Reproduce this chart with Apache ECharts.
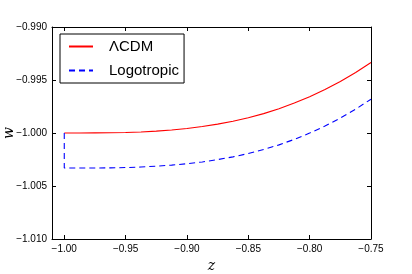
<!DOCTYPE html>
<html>
<head>
<meta charset="utf-8">
<script src="https://cdn.jsdelivr.net/npm/echarts@6/dist/echarts.min.js"></script>
<style>
html,body{margin:0;padding:0;background:#fff;}
#chart{width:412px;height:274px;}
</style>
</head>
<body>
<div id="chart"></div>
<script>
const xTicks = [-1.00, -0.95, -0.90, -0.85, -0.80, -0.75];
const yTicks = [-1.010, -1.005, -1.000, -0.995, -0.990];
const zValues = [-1.0000, -0.9875, -0.9750, -0.9625, -0.9500, -0.9375, -0.9250, -0.9125, -0.9000, -0.8875,
  -0.8750, -0.8625, -0.8500, -0.8375, -0.8250, -0.8125, -0.8000, -0.7875, -0.7750, -0.7625, -0.7500];
const lcdm = [-1.00000, -1.00000, -0.99999, -0.99998, -0.99995, -0.99990, -0.99982, -0.99971, -0.99957, -0.99939,
  -0.99916, -0.99889, -0.99856, -0.99817, -0.99771, -0.99718, -0.99658, -0.99590, -0.99514, -0.99429, -0.99335];
const logoStart = -1.0000;
const logotropic = [-1.00330, -1.00330, -1.00330, -1.00329, -1.00326, -1.00321, -1.00313, -1.00303, -1.00290, -1.00273,
  -1.00251, -1.00225, -1.00194, -1.00156, -1.00112, -1.00060, -1.00001, -0.99934, -0.99859, -0.99775, -0.99681];
const seriesNames = ['\u039BCDM', 'Logotropic'];
const xName = 'z';
const yName = 'w';

const fmt = (v, d) => (v < 0 ? '\u2212' : '') + Math.abs(v).toFixed(d);

const lcdmData = zValues.map((z, i) => [z, lcdm[i]]);
const logoData = [[zValues[0], logoStart]].concat(zValues.map((z, i) => [z, logotropic[i]]));

const chart = echarts.init(document.getElementById('chart'), null, {renderer: 'canvas'});
const labelFont = {fontFamily: 'Liberation Sans, Arial, sans-serif', fontSize: 10, color: '#000'};
const axisLine = {show: true, onZero: false, lineStyle: {color: '#000', width: 1}};

chart.setOption({
  animation: false,
  backgroundColor: '#fff',
  grid: {left: 52, right: 41, top: 27, bottom: 35, containLabel: false, outerBoundsMode: 'none'},
  graphic: [{
    type: 'text', x: 9, y: 133, rotation: Math.PI / 2,
    style: {text: yName, fontFamily: 'DejaVu Serif, serif', fontStyle: 'italic', fontSize: 14, fill: '#000',
      align: 'center', verticalAlign: 'middle'}
  }],
  legend: {
    orient: 'vertical',
    left: 60, top: 34,
    width: 123,
    borderColor: '#000', borderWidth: 1, borderRadius: 0,
    padding: [5, 5, 5, 8],
    itemWidth: 24, itemHeight: 14, itemGap: 9,
    itemStyle: {opacity: 0},
    textStyle: {fontFamily: 'Liberation Sans, Arial, sans-serif', fontSize: 15, color: '#000', padding: [0, 3, 0, 11]},
    data: seriesNames
  },
  xAxis: [{
    type: 'value', min: -1.01, max: -0.75, position: 'bottom',
    name: xName, nameLocation: 'middle', nameGap: 19,
    nameTextStyle: {fontFamily: 'DejaVu Serif, serif', fontStyle: 'italic', fontSize: 14, color: '#000'},
    axisLine: axisLine,
    axisTick: {show: true, inside: true, length: 4, customValues: xTicks, lineStyle: {color: '#000'}},
    axisLabel: Object.assign({show: true, margin: 5, customValues: xTicks, formatter: v => fmt(v, 2)}, labelFont),
    splitLine: {show: false}
  }, {
    type: 'value', min: -1.01, max: -0.75, position: 'top',
    axisLine: axisLine,
    axisTick: {show: true, inside: true, length: 4, customValues: xTicks, lineStyle: {color: '#000'}},
    axisLabel: {show: false},
    splitLine: {show: false}
  }],
  yAxis: [{
    type: 'value', min: -1.010, max: -0.990, interval: 0.005, position: 'left',
    axisLine: axisLine,
    axisTick: {show: true, inside: true, length: 4, lineStyle: {color: '#000'}},
    axisLabel: Object.assign({show: true, margin: 5, formatter: v => fmt(v, 3)}, labelFont),
    splitLine: {show: false}
  }, {
    type: 'value', min: -1.010, max: -0.990, interval: 0.005, position: 'right',
    axisLine: axisLine,
    axisTick: {show: true, inside: true, length: 4, lineStyle: {color: '#000'}},
    axisLabel: {show: false},
    splitLine: {show: false}
  }],
  series: [{
    name: seriesNames[0], type: 'line', data: lcdmData, showSymbol: false, symbol: 'none',
    xAxisIndex: 0, yAxisIndex: 0,
    lineStyle: {color: '#ff0000', width: 1.1, type: 'solid'},
    itemStyle: {color: '#ff0000'}
  }, {
    name: seriesNames[1], type: 'line', data: logoData, showSymbol: false, symbol: 'none',
    xAxisIndex: 0, yAxisIndex: 0,
    lineStyle: {color: '#0000ff', width: 1.1, type: [6, 4]},
    itemStyle: {color: '#0000ff'}
  }]
});
</script>
</body>
</html>
